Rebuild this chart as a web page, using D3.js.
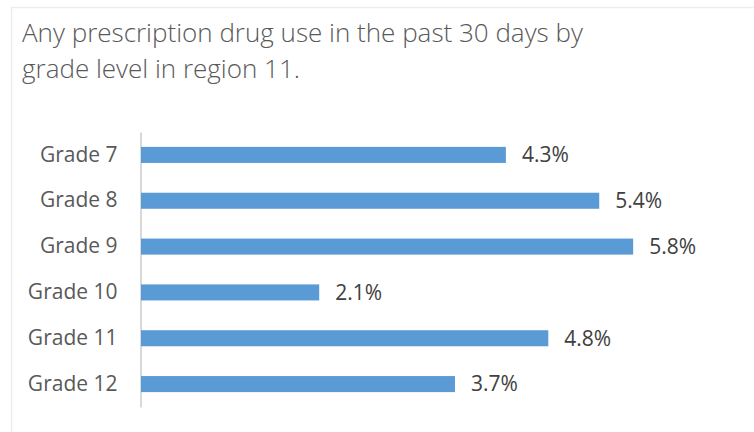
<!DOCTYPE html>
<html>
<head>
<meta charset="utf-8">
<script src="https://cdn.jsdelivr.net/npm/d3@7"></script>
<style>
  body { margin: 0; background: #fff; }
  text { font-family: "Open Sans", "Noto Sans", sans-serif; }
</style>
</head>
<body>
<div id="chart"></div>
<script>
// chart data
const grades = ["Grade 7", "Grade 8", "Grade 9", "Grade 10", "Grade 11", "Grade 12"];
const values = [4.3, 5.4, 5.8, 2.1, 4.8, 3.7];
const titleLines = ["Any prescription drug use in the past 30 days by", "grade level in region 11."];

const width = 754;
const height = 432;
const margin = {left: 141, right: 19, top: 132, bottom: 25};

const svg = d3.select("#chart")
  .append("svg")
  .attr("width", width)
  .attr("height", height);

// light frame round the chart
svg.append("rect")
  .attr("x", 11.5).attr("y", 7.5)
  .attr("width", width).attr("height", height)
  .attr("fill", "none")
  .attr("stroke", "#ededed")
  .attr("stroke-width", 1.5);

// title
svg.append("g")
  .selectAll("text")
  .data(titleLines)
  .enter()
  .append("text")
    .attr("x", 22)
    .attr("y", (d, i) => 42 + i * 36)
    .attr("font-size", "26px")
    .attr("font-weight", 300)
    .attr("fill", "#595959")
    .text(d => d);

// scales
const xScale = d3.scaleLinear()
  .domain([0, 7])
  .range([margin.left, width - margin.right]);

const yScale = d3.scaleBand()
  .domain(grades)
  .range([margin.top, height - margin.bottom])
  .paddingInner(0.65)
  .paddingOuter(0.325);

// category axis
const yAxis = svg.append("g")
  .attr("transform", `translate(${margin.left - 0.5},0)`)
  .call(d3.axisLeft(yScale).tickSize(0).tickPadding(23));

yAxis.select(".domain")
  .attr("stroke", "#d9d9d9")
  .attr("stroke-width", 2);

yAxis.selectAll("text")
  .attr("font-size", "21px")
  .attr("fill", "#595959")
  .style("font-family", "'Open Sans', 'Noto Sans', sans-serif");

// bars
svg.selectAll(".bar")
  .data(values)
  .enter()
  .append("rect")
    .attr("class", "bar")
    .attr("x", xScale(0))
    .attr("y", (d, i) => yScale(grades[i]))
    .attr("width", d => xScale(d) - xScale(0))
    .attr("height", yScale.bandwidth())
    .attr("fill", "#5b9bd5");

// value labels
svg.selectAll(".val")
  .data(values)
  .enter()
  .append("text")
    .attr("class", "val")
    .attr("x", d => xScale(d) + 16)
    .attr("y", (d, i) => yScale(grades[i]) + yScale.bandwidth() / 2)
    .attr("dy", "0.35em")
    .attr("font-size", "21px")
    .attr("fill", "#404040")
    .text(d => d.toFixed(1) + "%");
</script>
</body>
</html>
